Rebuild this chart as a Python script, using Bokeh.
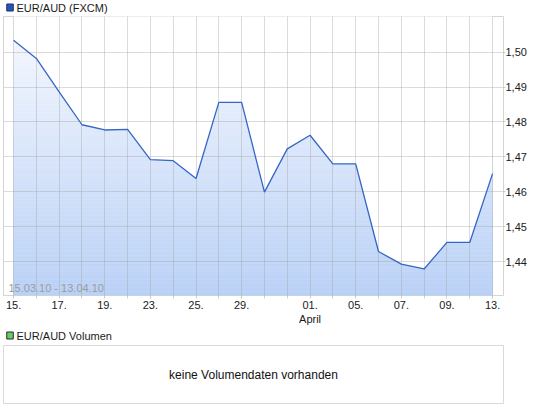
from bokeh.plotting import figure
from bokeh.layouts import column
from bokeh.models import Range1d, FixedTicker, Label
from bokeh.embed import file_html
from bokeh.resources import INLINE

# ---- data ----
dates = ["15.", "16.", "17.", "18.", "19.", "22.", "23.", "24.", "25.", "26.", "29.",
         "30.", "31.", "01.", "02.", "05.", "06.", "07.", "08.", "09.", "12.", "13."]
labelled_dates = ["15.", "17.", "19.", "23.", "25.", "29.", "01.", "05.", "07.", "09.", "13."]
month_label = {"01.": "April"}
values = [1.5034, 1.4982, 1.4886, 1.4792, 1.4777, 1.4779, 1.4692, 1.4689, 1.4638,
          1.4856, 1.4856, 1.4599, 1.4723, 1.4762, 1.4680, 1.4680, 1.4429, 1.4393,
          1.4379, 1.4455, 1.4455, 1.4652]
y_ticks = [1.44, 1.45, 1.46, 1.47, 1.48, 1.49, 1.50]
y_tick_labels = ["1,44", "1,45", "1,46", "1,47", "1,48", "1,49", "1,50"]
series_name = "EUR/AUD (FXCM)"
volume_name = "EUR/AUD Volumen"
period_text = "15.03.10 - 13.04.10"
no_volume_text = "keine Volumendaten vorhanden"

FONT = "Liberation Sans"
W = 537
x = list(range(len(dates)))
Y_LO, Y_HI = 1.4303, 1.5102


def header(height, label, fill, edge, yc):
    h = figure(width=W, height=height, output_backend="svg", toolbar_location=None,
               x_range=Range1d(0, W), y_range=Range1d(height, 0),
               min_border=0, x_axis_location=None, y_axis_location=None)
    h.xgrid.visible = False
    h.ygrid.visible = False
    h.outline_line_color = None
    h.rect(x=7, y=yc, width=7, height=7, fill_color=fill, line_color=edge, line_width=1)
    h.add_layout(Label(x=14, y=yc, text=label, text_font=FONT, text_font_size="11px",
                       text_color="#1a1a1a", text_baseline="middle"))
    return h


head1 = header(15, series_name, "#2456b8", "#15306a", 7)

# ---- main price figure ----
H1 = 312
p = figure(width=W, height=H1, output_backend="svg", toolbar_location=None,
           x_range=Range1d(-0.44, 21.48), y_range=Range1d(Y_LO, Y_HI),
           y_axis_location="right", min_border_left=3, min_border_right=34,
           min_border_top=1, min_border_bottom=30)
p.outline_line_color = "#d5d5d5"
p.background_fill_color = "white"
p.border_fill_color = "white"

# gradient fill under the line: horizontal bands, then white above the line
n_bands = 70
top_c = (248, 250, 255)
bot_c = (186, 209, 246)
bt, tp, cols = [], [], []
for k in range(n_bands):
    f0 = k / n_bands
    f1 = (k + 1) / n_bands
    bt.append(Y_LO + (Y_HI - Y_LO) * f0)
    tp.append(Y_LO + (Y_HI - Y_LO) * f1)
    fm = (f0 + f1) / 2
    c = tuple(int(round(bot_c[i] + (top_c[i] - bot_c[i]) * fm)) for i in range(3))
    cols.append("#%02x%02x%02x" % c)
p.quad(left=x[0], right=x[-1], bottom=bt, top=tp, fill_color=cols, line_color=cols, line_width=0.6)
p.varea(x=x, y1=values, y2=Y_HI, fill_color="white")
p.line(x=x, y=values, line_color="#3566c6", line_width=1.3, level="annotation")

# grid
p.xgrid.ticker = FixedTicker(ticks=x)
p.ygrid.ticker = FixedTicker(ticks=y_ticks)
for g in (p.xgrid, p.ygrid):
    g.grid_line_color = "#a0a0a0"
    g.grid_line_alpha = 0.38
    g.level = "guide"

# axes
x_over = {}
for i, d in enumerate(dates):
    lab = d if d in labelled_dates else ""
    if lab and d in month_label:
        lab = lab + "\n" + month_label[d]
    x_over[i] = lab
p.xaxis.ticker = FixedTicker(ticks=x)
p.xaxis.major_label_overrides = x_over
p.yaxis.ticker = FixedTicker(ticks=y_ticks)
p.yaxis.major_label_overrides = {t: l for t, l in zip(y_ticks, y_tick_labels)}
for ax in (p.xaxis[0], p.yaxis[0]):
    ax.axis_line_color = None
    ax.major_tick_line_color = "#cccccc"
    ax.major_tick_in = 0
    ax.major_tick_out = 3
    ax.minor_tick_line_color = None
    ax.major_label_text_font = FONT
    ax.major_label_text_font_size = "11px"
    ax.major_label_text_color = "#1a1a1a"
p.yaxis.major_tick_out = 2
p.xaxis.major_label_standoff = 0
p.yaxis.major_label_standoff = 0

p.add_layout(Label(x=5, y=2, x_units="screen", y_units="screen", text=period_text,
                   text_font=FONT, text_font_size="11px", text_color="#9c9c9c",
                   text_baseline="bottom", level="annotation"))

head2 = header(16, volume_name, "#66cc66", "#2a2a2a", 8)

# ---- volume panel ----
v = figure(width=W, height=62, output_backend="svg", toolbar_location=None,
           x_range=Range1d(0, 1), y_range=Range1d(0, 1),
           min_border_left=3, min_border_right=34, min_border_top=2, min_border_bottom=2,
           x_axis_location=None, y_axis_location=None)
v.xgrid.visible = False
v.ygrid.visible = False
v.outline_line_color = "#d9d9d9"
v.add_layout(Label(x=0.5, y=0.5, text=no_volume_text, text_align="center",
                   text_baseline="middle", text_font=FONT, text_font_size="12px",
                   text_color="#111111"))

layout = column(head1, p, head2, v, spacing=0)

open("out.html", "w").write(file_html(layout, INLINE))
